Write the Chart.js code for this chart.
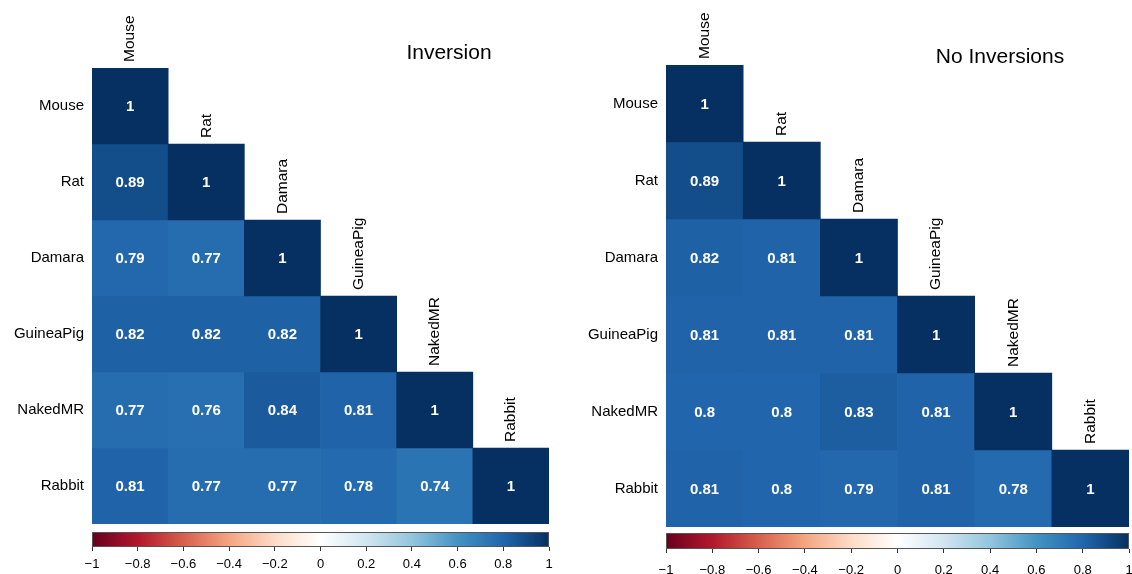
<!DOCTYPE html>
<html>
<head>
<meta charset="utf-8">
<script src="https://cdn.jsdelivr.net/npm/chart.js@4.4.0/dist/chart.umd.min.js"></script>
<style>
  html, body { margin: 0; padding: 0; background: #fff; }
  #wrap { position: relative; width: 1132px; height: 574px; overflow: hidden; }
  #wrap canvas { position: absolute; }
</style>
</head>
<body>
<div id="wrap">
  <canvas id="heatLeft"  style="left:0;top:0"></canvas>
  <canvas id="heatRight" style="left:560px;top:0"></canvas>
  <canvas id="barLeft"   style="left:0;top:526px"></canvas>
  <canvas id="barRight"  style="left:560px;top:528px"></canvas>
</div>
<script>
// Species compared in both correlation matrices
const species = ['Mouse', 'Rat', 'Damara', 'GuineaPig', 'NakedMR', 'Rabbit'];

// Lower-triangle correlations, one row per species (columns follow `species`)
const inversionRows = [
  [1],
  [0.89, 1],
  [0.79, 0.77, 1],
  [0.82, 0.82, 0.82, 1],
  [0.77, 0.76, 0.84, 0.81, 1],
  [0.81, 0.77, 0.77, 0.78, 0.74, 1]
];
const noInversionRows = [
  [1],
  [0.89, 1],
  [0.82, 0.81, 1],
  [0.81, 0.81, 0.81, 1],
  [0.8, 0.8, 0.83, 0.81, 1],
  [0.81, 0.8, 0.79, 0.81, 0.78, 1]
];

// Colour key tick values
const keyTicks = [-1, -0.8, -0.6, -0.4, -0.2, 0, 0.2, 0.4, 0.6, 0.8, 1];

// Diverging red-blue palette, evenly spread over -1 .. 1
const paletteRdBu = ['#67001F', '#B2182B', '#D6604D', '#F4A582', '#FDDBC7', '#FFFFFF',
                     '#D1E5F0', '#92C5DE', '#4393C3', '#2166AC', '#053061'];

const FONT = '"Liberation Sans", Arial, Helvetica, sans-serif';
Chart.defaults.font.family = FONT;
Chart.defaults.color = '#000';

function hexToRgb(h) {
  return [parseInt(h.slice(1, 3), 16), parseInt(h.slice(3, 5), 16), parseInt(h.slice(5, 7), 16)];
}
function colorFor(v) {
  const t = (v + 1) / 2 * (paletteRdBu.length - 1);
  const i = Math.min(Math.floor(t), paletteRdBu.length - 2);
  const f = t - i;
  const a = hexToRgb(paletteRdBu[i]), b = hexToRgb(paletteRdBu[i + 1]);
  const c = a.map((x, k) => Math.round(x + (b[k] - x) * f));
  return `rgb(${c[0]},${c[1]},${c[2]})`;
}

// Writes each correlation value in the middle of its cell
const cellValues = {
  id: 'cellValues',
  afterDatasetsDraw(chart) {
    const ctx = chart.ctx;
    ctx.save();
    ctx.font = `bold 15px ${FONT}`;
    ctx.fillStyle = '#fff';
    ctx.textAlign = 'center';
    ctx.textBaseline = 'middle';
    chart.data.datasets.forEach((ds, i) => {
      chart.getDatasetMeta(i).data.forEach((el, j) => {
        const v = ds.corr[j];
        if (v == null) return;
        const p = el.getCenterPoint();
        ctx.fillText(String(v), p.x, p.y + 1);
      });
    });
    ctx.restore();
  }
};

// Column names, rotated, sitting on top of each diagonal cell
const diagonalNames = {
  id: 'diagonalNames',
  afterDraw(chart) {
    const ctx = chart.ctx, xs = chart.scales.x, ys = chart.scales.y;
    ctx.save();
    ctx.font = `15.5px ${FONT}`;
    ctx.fillStyle = '#000';
    ctx.textAlign = 'left';
    ctx.textBaseline = 'middle';
    species.forEach((name, j) => {
      ctx.save();
      ctx.translate(xs.getPixelForValue(j), ys.getPixelForValue(j) - 6);
      ctx.rotate(-Math.PI / 2);
      ctx.fillText(name, 0, 0);
      ctx.restore();
    });
    ctx.restore();
  }
};

// Panel heading
const panelTitle = {
  id: 'panelTitle',
  afterDraw(chart, args, opts) {
    const ctx = chart.ctx;
    ctx.save();
    ctx.font = `21px ${FONT}`;
    ctx.fillStyle = '#000';
    ctx.textAlign = 'center';
    ctx.textBaseline = 'middle';
    ctx.fillText(opts.text, opts.x, opts.y);
    ctx.restore();
  }
};

function heatmap(id, rows, size, area, title) {
  const canvas = document.getElementById(id);
  canvas.width = size.w; canvas.height = size.h;
  const datasets = rows.map((vals, r) => ({
    data: species.map((_, c) => (c < vals.length ? [r, r + 1] : null)),
    corr: species.map((_, c) => (c < vals.length ? vals[c] : null)),
    backgroundColor: species.map((_, c) => (c < vals.length ? colorFor(vals[c]) : 'rgba(0,0,0,0)')),
    borderWidth: 0,
    grouped: false,
    barPercentage: 1,
    categoryPercentage: 1
  }));
  return new Chart(canvas, {
    type: 'bar',
    data: { labels: species, datasets },
    options: {
      responsive: false,
      animation: false,
      events: [],
      layout: { padding: { left: 0, top: area.top, right: size.w - area.right, bottom: size.h - area.bottom } },
      plugins: { legend: { display: false }, tooltip: { enabled: false }, panelTitle: title },
      scales: {
        x: { type: 'category', display: false, offset: true },
        y: {
          type: 'linear', min: 0, max: 6, reverse: true,
          afterBuildTicks: s => { s.ticks = species.map((_, i) => ({ value: i + 0.5 })); },
          afterFit: s => { s.width = area.left; s.paddingTop = 0; s.paddingBottom = 0; },
          grid: { display: false, drawTicks: false },
          border: { display: false },
          ticks: { padding: 8, color: '#000', font: { size: 15 }, callback: (v, i) => species[i] }
        }
      }
    },
    plugins: [cellValues, diagonalNames, panelTitle]
  });
}

// Gradient strip of the colour key
const keyStrip = {
  id: 'keyStrip',
  beforeDatasetsDraw(chart) {
    const ctx = chart.ctx, a = chart.chartArea;
    const g = ctx.createLinearGradient(a.left, 0, a.right, 0);
    paletteRdBu.forEach((c, i) => g.addColorStop(i / (paletteRdBu.length - 1), c));
    ctx.save();
    ctx.fillStyle = g;
    ctx.fillRect(a.left, a.top, a.right - a.left, a.bottom - a.top);
    ctx.strokeStyle = '#555';
    ctx.lineWidth = 1;
    ctx.strokeRect(a.left + 0.5, a.top + 0.5, a.right - a.left - 1, a.bottom - a.top - 1);
    ctx.restore();
  }
};

function colorKey(id, size, area, labelGap) {
  const canvas = document.getElementById(id);
  canvas.width = size.w; canvas.height = size.h;
  return new Chart(canvas, {
    type: 'scatter',
    data: { datasets: [{ data: [] }] },
    options: {
      responsive: false,
      animation: false,
      events: [],
      layout: { padding: { left: area.left, top: area.top, right: size.w - area.right, bottom: 0 } },
      plugins: { legend: { display: false }, tooltip: { enabled: false } },
      scales: {
        y: { display: false, min: 0, max: 1 },
        x: {
          type: 'linear', min: -1, max: 1,
          afterBuildTicks: s => { s.ticks = keyTicks.map(v => ({ value: v })); },
          afterFit: s => { s.height = size.h - area.bottom; s.paddingLeft = 0; s.paddingRight = 0; },
          grid: { display: true, drawOnChartArea: false, drawTicks: true, tickLength: 4, color: '#333' },
          border: { display: false },
          ticks: {
            padding: labelGap, maxRotation: 0, autoSkip: false, color: '#000', font: { size: 13 },
            callback: v => { const r = Math.round(v * 10) / 10; return (r < 0 ? '\u2212' : '') + Math.abs(r); }
          }
        }
      }
    },
    plugins: [keyStrip]
  });
}

heatmap('heatLeft', inversionRows, { w: 560, h: 528 }, { left: 92, right: 549, top: 68, bottom: 524 },
        { text: 'Inversion', x: 449, y: 53 });
heatmap('heatRight', noInversionRows, { w: 572, h: 530 }, { left: 106, right: 569, top: 65, bottom: 527 },
        { text: 'No Inversions', x: 440, y: 57 });
colorKey('barLeft', { w: 560, h: 48 }, { left: 92, right: 549, top: 6, bottom: 21 }, 6);
colorKey('barRight', { w: 572, h: 46 }, { left: 106, right: 569, top: 5, bottom: 21 }, 10);
</script>
</body>
</html>
